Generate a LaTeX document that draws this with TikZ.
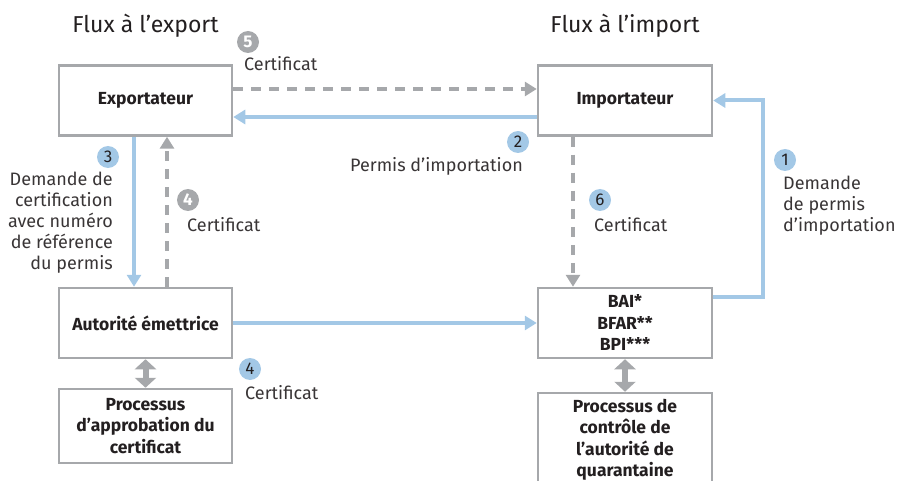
\documentclass[tikz,border=0pt]{standalone}
\usepackage{fontspec}
\setmainfont{Fira Sans}
\usetikzlibrary{arrows.meta}
\definecolor{lblue}{HTML}{A3C8E6}
\definecolor{lgray}{HTML}{A6A8AB}
\definecolor{txt}{HTML}{231F20}
\begin{document}
\begin{tikzpicture}[x=1pt,y=-1pt,
  box/.style={draw=lgray, line width=2.5pt, fill=white, inner sep=0pt, text=txt,
    font=\bfseries\fontsize{17.5}{21.5}\selectfont, align=center, minimum width=173pt},
  bflow/.style={draw=lblue, line width=4pt, line join=miter, -{Triangle[length=12pt,width=14pt]}},
  gflow/.style={draw=lgray, line width=4pt, dash pattern=on 10pt off 8pt, -{Triangle[length=12pt,width=14pt]}},
  dbl/.style={draw=lgray, line width=6pt, {Triangle[length=10pt,width=21pt]}-{Triangle[length=10pt,width=21pt]}},
  bnum/.style={circle, fill=lblue, minimum size=22pt, inner sep=0pt, text=txt, font=\fontsize{17}{17}\selectfont},
  gnum/.style={circle, fill=lgray, minimum size=22pt, inner sep=0pt, text=white, font=\bfseries\fontsize{17}{17}\selectfont},
  lbl/.style={text=txt!90, font=\fontsize{18}{21}\selectfont, inner sep=0pt},
  ttl/.style={text=txt, font=\fontsize{23}{28}\selectfont, inner sep=0pt}]
\useasboundingbox (0,0) rectangle (907,481);
\clip (0,0) rectangle (907,481);

% titles
\node[ttl] (t1) at (145.5,26) {Flux à l’export};
\node[ttl] (t2) at (625,26) {Flux à l’import};

% boxes
\node[box, minimum height=70pt] (exp) at (145.5,100.5) {Exportateur};
\node[box, minimum height=70pt, minimum width=174pt] (imp) at (625,100.5) {Importateur};
\node[box, minimum height=70pt] (aut) at (145.5,323) {Autorité émettrice};
\node[box, minimum height=74pt] (proc) at (145.5,426) {Processus\\d’approbation du\\certificat};
\node[box, minimum height=70pt, minimum width=174pt] (bai) at (625,323) {BAI*\\BFAR**\\BPI***};
\node[box, minimum height=110pt, minimum width=174pt] (ctrl) at (625,448) {};
\node[font=\bfseries\fontsize{17.5}{21.5}\selectfont, text=txt, align=center, inner sep=0pt, anchor=north] (ctrltxt) at (625,399) {Processus de\\contrôle de\\l’autorité de\\quarantaine};

% connectors
\draw[gflow] ([yshift=11.5pt]exp.east) -- ([yshift=11.5pt]imp.west);
\draw[bflow] ([yshift=-16.5pt]imp.west) -- ([yshift=-16.5pt]exp.east);
\draw[bflow] ([xshift=-11.5pt]exp.south) -- ([xshift=-11.5pt]aut.north);
\draw[gflow] ([xshift=21.5pt]aut.north) -- ([xshift=21.5pt]exp.south);
\draw[bflow] (aut.east) -- (bai.west);
\draw[gflow] ([xshift=-52pt]imp.south) -- ([xshift=-52pt]bai.north);
\coordinate (rr) at (763,0);
\draw[bflow] ([yshift=26pt]bai.east) -- ([yshift=26pt]bai.east -| rr) -- (imp.east -| rr) -- (imp.east);
\draw[dbl] (aut.south) -- (proc.north);
\draw[dbl] (bai.south) -- (ctrl.north);

% numbers and labels
\node[gnum] (n5) at (248,42) {5};
\node[lbl, anchor=west] (l5) at (244,64) {Certificat};
\node[bnum] (n2) at (518,142) {2};
\node[lbl, anchor=east] (l2) at (523,166) {Permis d’importation};
\node[bnum] (n3) at (108,157) {3};
\node[lbl, anchor=north east, align=right] (l3) at (113,172) {Demande de\\certification\\avec numéro\\de référence\\du permis};
\node[gnum] (n4a) at (188,200) {4};
\node[lbl, anchor=west] (l4a) at (187,225) {Certificat};
\node[bnum] (n4b) at (250,369) {4};
\node[lbl, anchor=west] (l4b) at (245,393) {Certificat};
\node[bnum] (n6) at (600,200) {6};
\node[lbl, anchor=west] (l6) at (594,225) {Certificat};
\node[bnum] (n1) at (785,160) {1};
\node[lbl, anchor=north west, align=left] (l1) at (783,176) {Demande\\de permis\\d’importation};
\end{tikzpicture}
\end{document}
